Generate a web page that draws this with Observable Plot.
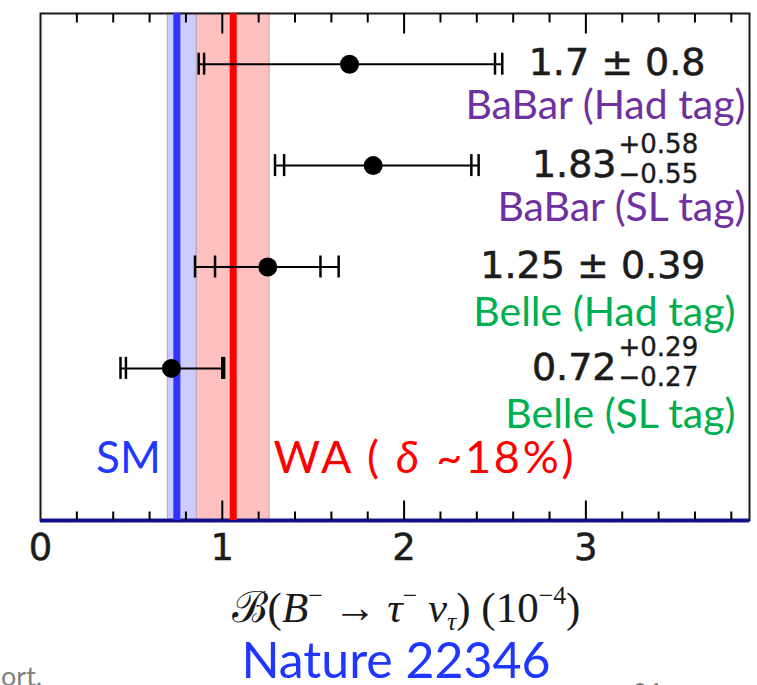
<!DOCTYPE html>
<html>
<head>
<meta charset="utf-8">
<script src="https://cdn.jsdelivr.net/npm/d3@7"></script>
<script src="https://cdn.jsdelivr.net/npm/@observablehq/plot@0.6"></script>
<style>
  html, body { margin: 0; padding: 0; background: #fff; }
  body { width: 757px; height: 685px; overflow: hidden; position: relative; }
  #chart svg { display: block; }
  .xlabel { position: absolute; left: 0; top: 586px; width: 812px; text-align: center;
            font-family: "Liberation Serif", serif; font-size: 43px; color: #1a1a1a; line-height: 1; white-space: nowrap; }
  .xlabel i { font-style: italic; }
  .xlabel sup, .xlabel sub { font-size: 60%; line-height: 0; position: relative; vertical-align: baseline; }
  .xlabel sup { top: -0.7em; }
  .xlabel sub { top: 0.3em; }
  .source { position: absolute; left: 0; top: 634px; width: 792px; text-align: center;
            font-family: Lato, sans-serif; font-size: 50px; color: #1f36ff; line-height: 1; }
  .cut { position: absolute; font-family: Lato, sans-serif; font-size: 27px; color: #808080; line-height: 1; }
</style>
</head>
<body>
<div id="chart"></div>
<div class="xlabel"><span>ℬ</span>(<i>B</i><sup>−</sup> → <i>τ</i><sup>−</sup> <i>ν</i><sub><i>τ</i></sub>) (10<sup>−4</sup>)</div>
<div class="source">Nature 22346</div>
<div class="cut" style="left:1px; top:662px;">ort.</div>
<div class="cut" style="left:632px; top:679px;">21</div>
<script>
// ---- data ----
const experiments = ["BaBar (Had tag)", "BaBar (SL tag)", "Belle (Had tag)", "Belle (SL tag)"];
const central   = [1.70, 1.83, 1.25, 0.72];
const totalLow  = [0.87, 1.29, 0.85, 0.44];
const statLow   = [0.90, 1.34, 0.96, 0.47];
const statHigh  = [2.50, 2.37, 1.54, 1.00];
const totalHigh = [2.54, 2.41, 1.64, 1.01];
const valueLabels = ["1.7 ± 0.8", "1.83", "1.25 ± 0.39", "0.72"];
const errPlus  = ["", "+0.58", "", "+0.29"];
const errMinus = ["", "−0.55", "", "−0.27"];
const smValue = 0.75;
const smBand  = [0.70, 0.86];
const waValue = 1.06;
const waBand  = [0.86, 1.26];
const smLabel = "SM";
const waLabel = "WA ( δ ~18%)";
const xTickValues = [0, 1, 2, 3];
const xDomain = [0, 3.9];

// ---- layout ----
const width = 757, height = 575;
const mTop = 13, mRight = 8, mBottom = 55, mLeft = 40;
const yDomain = [-0.5, 4.5];
const pxPerY = (height - mTop - mBottom) / (yDomain[1] - yDomain[0]);

const rows = experiments.map((name, i) => ({
  i, name,
  val: central[i], tLo: totalLow[i], sLo: statLow[i], sHi: statHigh[i], tHi: totalHigh[i],
  label: valueLabels[i], plus: errPlus[i], minus: errMinus[i]
}));
const sym = rows.filter(d => !d.plus);
const asym = rows.filter(d => d.plus);
const babar = rows.filter(d => d.name.startsWith("BaBar"));
const belle = rows.filter(d => d.name.startsWith("Belle"));

// inward frame ticks: minor every 0.2, major every 1
const frameTicks = d3.range(1, 20).map(k => ({v: k / 5, len: k % 5 ? 9 : 20}));
const numFont = {fontFamily: "DejaVu Sans", fill: "#1c1c1c", stroke: "#1c1c1c", strokeWidth: 0.6};
const lblFont = {fontFamily: "Lato", fontSize: 41};
const cap = {y1: "i", y2: "i", insetTop: -11, insetBottom: -11, stroke: "#000", strokeWidth: 2.5};

const chart = Plot.plot({
  width, height,
  marginTop: mTop, marginRight: mRight, marginBottom: mBottom, marginLeft: mLeft,
  x: {domain: xDomain, axis: null},
  y: {domain: yDomain, reverse: true, axis: null},
  marks: [
    Plot.rect([smBand], {x1: d => d[0], x2: d => d[1], fill: "#ccccff", stroke: "#a9a9b9", strokeWidth: 1}),
    Plot.rect([waBand], {x1: d => d[0], x2: d => d[1], fill: "#ffc0c0", stroke: "#b5a9a9", strokeWidth: 1}),
    Plot.frame({stroke: "#1a1a1a", strokeWidth: 2}),
    Plot.ruleY([yDomain[1]], {stroke: "#12128c", strokeWidth: 4}),
    Plot.ruleX([smValue], {stroke: "#3333ff", strokeWidth: 7}),
    Plot.ruleX([waValue], {stroke: "#ff0000", strokeWidth: 7}),
    // tick labels of the x axis
    Plot.text(xTickValues, {x: d => d, frameAnchor: "bottom", lineAnchor: "top", dy: 13, text: d => String(d),
                            fontSize: 37, ...numFont, strokeWidth: 0.5}),
    // error bars
    Plot.ruleY(rows, {y: "i", x1: "tLo", x2: "tHi", stroke: "#000", strokeWidth: 2}),
    Plot.ruleX(rows, {x: "tLo", ...cap}),
    Plot.ruleX(rows, {x: "sLo", ...cap}),
    Plot.ruleX(rows, {x: "sHi", ...cap}),
    Plot.ruleX(rows, {x: "tHi", ...cap}),
    Plot.dot(rows, {x: "val", y: "i", r: 9.5, fill: "#000"}),
    // value annotations
    Plot.text(sym, {y: "i", text: "label", frameAnchor: "right", textAnchor: "end", dx: -44, dy: -1, fontSize: 38, ...numFont}),
    Plot.text(asym, {y: "i", text: "label", frameAnchor: "right", textAnchor: "end", dx: -133, dy: -1, fontSize: 38, ...numFont}),
    Plot.text(asym, {y: "i", text: "plus", frameAnchor: "right", textAnchor: "start", dx: -131, dy: -21, fontSize: 26, ...numFont, strokeWidth: 0.4}),
    Plot.text(asym, {y: "i", text: "minus", frameAnchor: "right", textAnchor: "start", dx: -131, dy: 9, fontSize: 26, ...numFont, strokeWidth: 0.4}),
    // experiment names
    Plot.text(babar, {y: "i", text: "name", frameAnchor: "right", textAnchor: "end", dx: -4, dy: 42, fill: "#7030a0", ...lblFont}),
    Plot.text(belle, {y: "i", text: "name", frameAnchor: "right", textAnchor: "end", dx: -14, dy: 46, fill: "#00b050", ...lblFont}),
    // SM / WA labels
    Plot.text([{x: smBand[0], t: smLabel}], {x: "x", text: "t", frameAnchor: "bottom", textAnchor: "end", dx: -7, dy: -48, fill: "#2038ff", fontFamily: "Lato", fontSize: 44}),
    Plot.text([{x: waBand[1], t: waLabel}], {x: "x", text: "t", frameAnchor: "bottom", textAnchor: "start", dx: 4, dy: -48, fill: "#ff0000", fontFamily: "Lato", fontSize: 45}),
    // inward ticks on the bottom and top edges (drawn last)
    Plot.link(frameTicks, {x1: "v", x2: "v", y1: () => yDomain[1], y2: d => yDomain[1] - d.len / pxPerY, stroke: "black", strokeWidth: 2}),
    Plot.link(frameTicks, {x1: "v", x2: "v", y1: () => yDomain[0], y2: d => yDomain[0] + d.len / pxPerY, stroke: "black", strokeWidth: 2})
  ]
});

// italic delta inside the WA label, spread to the reference's width
d3.select(chart).selectAll("text").filter(function() { return this.textContent === waLabel; })
  .each(function() {
    const t = d3.select(this);
    t.text(null).attr("textLength", 300).attr("lengthAdjust", "spacing");
    t.append("tspan").text("WA ( ");
    t.append("tspan").attr("font-style", "italic").text("δ");
    t.append("tspan").text(" ~18%)");
  });

document.getElementById("chart").appendChild(chart);
</script>
</body>
</html>
